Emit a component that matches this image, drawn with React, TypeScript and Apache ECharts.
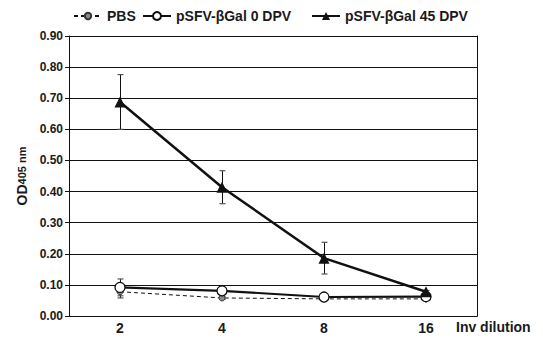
import React, { useEffect, useRef } from "react";
import * as echarts from "echarts";

const categories = ["2", "4", "8", "16"];
const pbsValues = [0.078, 0.058, 0.055, 0.055];
const pbsErrors = [0.02, 0.005, 0.004, 0.004];
const dpv0Values = [0.092, 0.081, 0.061, 0.062];
const dpv0Errors = [0.027, 0.005, 0.004, 0.004];
const dpv45Values = [0.688, 0.414, 0.186, 0.078];
const dpv45Errors = [0.088, 0.053, 0.051, 0.004];
const yTicks = { min: 0, max: 0.9, interval: 0.1 };

const FONT = "'Liberation Sans', Arial, sans-serif";

function errorData(values: number[], errs: number[]) {
  return values.map((v, i) => [i, v - errs[i], v + errs[i]]);
}

function errorSeries(name: string, values: number[], errs: number[]) {
  return {
    type: "custom",
    name: name + " err",
    z: 1,
    silent: true,
    data: errorData(values, errs),
    renderItem: (params: any, api: any) => {
      const x = api.value(0);
      const lo = api.coord([x, api.value(1)]);
      const hi = api.coord([x, api.value(2)]);
      const cx = Math.round(lo[0]) + 0.5;
      const hw = 3;
      const stroke = { stroke: "#111", lineWidth: 1 };
      const capStroke = { stroke: "#555", lineWidth: 1.2 };
      return {
        type: "group",
        children: [
          { type: "line", shape: { x1: cx, y1: lo[1], x2: cx, y2: hi[1] }, style: stroke },
          { type: "line", shape: { x1: cx - hw, y1: hi[1], x2: cx + hw, y2: hi[1] }, style: capStroke },
          { type: "line", shape: { x1: cx - hw, y1: lo[1], x2: cx + hw, y2: lo[1] }, style: capStroke },
        ],
      };
    },
  };
}

export default function App() {
  const ref = useRef<HTMLDivElement>(null);
  useEffect(() => {
    document.body.style.margin = "0";
    const chart = echarts.init(ref.current!, undefined, { renderer: "svg" });
    const legendText = { fontFamily: FONT, fontSize: 14, fontWeight: "bold", color: "#1a1a1a" };
    const frameLine = { show: true, lineStyle: { color: "#111", width: 1 } };
    chart.setOption({
      animation: false,
      backgroundColor: "#fff",
      textStyle: { fontFamily: FONT },
      grid: { left: 69, right: 66, top: 36, bottom: 22 },
      legend: [
        { data: ["PBS"], left: 73, top: 9, itemWidth: 28, itemHeight: 8, itemGap: 2, textStyle: legendText, padding: 0 },
        { data: ["pSFV-βGal 0 DPV"], left: 142, top: 9, itemWidth: 28, itemHeight: 10, textStyle: legendText, padding: 0 },
        { data: ["pSFV-βGal 45 DPV"], left: 311, top: 9, itemWidth: 28, itemHeight: 10, textStyle: legendText, padding: 0 },
      ],
      xAxis: [
        {
          type: "category",
          data: categories,
          boundaryGap: true,
          axisLine: frameLine,
          axisTick: { show: false },
          axisLabel: { fontFamily: FONT, fontSize: 14, fontWeight: "bold", color: "#1a1a1a", margin: 5 },
          splitLine: { show: false },
        },
        {
          type: "category",
          position: "top",
          data: categories,
          axisLine: frameLine,
          axisTick: { show: false },
          axisLabel: { show: false },
          splitLine: { show: false },
        },
      ],
      yAxis: [
        {
          type: "value",
          min: yTicks.min,
          max: yTicks.max,
          interval: yTicks.interval,
          name: "{a|OD}{b|405 nm}",
          nameLocation: "middle",
          nameRotate: 90,
          nameGap: 39,
          nameTextStyle: {
            rich: {
              a: { fontFamily: FONT, fontSize: 14, fontWeight: "bold", color: "#1a1a1a" },
              b: { fontFamily: FONT, fontSize: 11, fontWeight: "bold", color: "#1a1a1a" },
            },
          },
          axisLine: frameLine,
          axisTick: { show: true, inside: false, length: 4, lineStyle: { color: "#111" } },
          axisLabel: {
            fontFamily: FONT,
            fontSize: 12,
            fontWeight: "bold",
            color: "#1a1a1a",
            margin: 6,
            formatter: (v: number) => v.toFixed(2),
          },
          splitLine: { show: true, lineStyle: { color: "#111", width: 1, type: "solid" } },
        },
        {
          type: "value",
          position: "right",
          min: yTicks.min,
          max: yTicks.max,
          interval: yTicks.interval,
          axisLine: frameLine,
          axisTick: { show: false },
          axisLabel: { show: false },
          splitLine: { show: false },
        },
      ],
      graphic: [
        {
          type: "text",
          left: 456,
          top: 320,
          style: { text: "Inv dilution", fontFamily: FONT, fontSize: 14, fontWeight: "bold", fill: "#1a1a1a" },
        },
      ],
      series: [
        errorSeries("PBS", pbsValues, pbsErrors),
        errorSeries("pSFV-βGal 0 DPV", dpv0Values, dpv0Errors),
        errorSeries("pSFV-βGal 45 DPV", dpv45Values, dpv45Errors),
        {
          type: "line",
          name: "PBS",
          data: pbsValues,
          z: 3,
          symbol: "circle",
          symbolSize: 6,
          lineStyle: { color: "#111", width: 1, type: [4, 3] },
          itemStyle: { color: "#8a8a8a", borderColor: "#333", borderWidth: 1 },
        },
        {
          type: "line",
          name: "pSFV-βGal 0 DPV",
          data: dpv0Values,
          z: 4,
          symbol: "circle",
          symbolSize: 10,
          lineStyle: { color: "#111", width: 2.2 },
          itemStyle: { color: "#fff", borderColor: "#111", borderWidth: 1.3 },
        },
        {
          type: "line",
          name: "pSFV-βGal 45 DPV",
          data: dpv45Values,
          z: 5,
          symbol: "triangle",
          symbolSize: 11,
          lineStyle: { color: "#111", width: 2.5 },
          itemStyle: { color: "#111", borderColor: "#111", borderWidth: 0 },
        },
      ],
    });
    return () => chart.dispose();
  }, []);
  return <div ref={ref} style={{ width: 543, height: 338 }} />;
}
